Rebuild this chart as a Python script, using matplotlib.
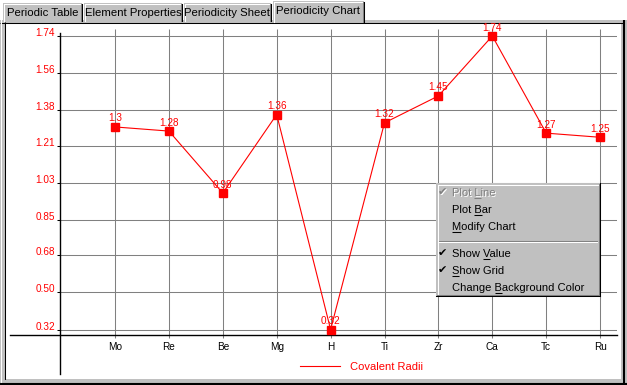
import matplotlib
matplotlib.use("Agg")
import matplotlib.pyplot as plt
from matplotlib.lines import Line2D
from matplotlib.patches import Rectangle

plt.rcParams['font.family'] = ['Liberation Sans', 'DejaVu Sans']

# ---------------- data ----------------
elements = ["Mo", "Re", "Be", "Mg", "H", "Ti", "Zr", "Ca", "Tc", "Ru"]
radii = [1.30, 1.28, 0.98, 1.36, 0.32, 1.32, 1.45, 1.74, 1.27, 1.25]
radii_labels = ["1.3", "1.28", "0.98", "1.36", "0.32", "1.32", "1.45", "1.74", "1.27", "1.25"]
y_ticks = [0.32, 0.50, 0.68, 0.85, 1.03, 1.21, 1.38, 1.56, 1.74]
y_tick_labels = ["0.32", "0.50", "0.68", "0.85", "1.03", "1.21", "1.38", "1.56", "1.74"]
series_name = "Covalent Radii"
tab_names = ["Periodic Table", "Element Properties", "Periodicity Sheet", "Periodicity Chart"]
menu_labels = ["Plot Line", "Plot Bar", "Modify Chart", "Show Value", "Show Grid",
               "Change Background Color"]
menu_underline = [5, 5, 0, 5, 0, 7]
menu_enabled = [False, True, True, True, True, True]
menu_checked = [True, False, False, True, True, False]

W, H = 627, 385
GRAY = '#c0c0c0'
DGRAY = '#808080'
fig = plt.figure(figsize=(W / 100, H / 100), dpi=100, facecolor='white')


def fx(px):
    return px / W


def fy(py):
    return 1 - py / H


# ---------------- background UI (frame + tabs) ----------------
bg = fig.add_axes([0, 0, 1, 1], zorder=0)
bg.set_xlim(0, W)
bg.set_ylim(H, 0)
bg.axis('off')

bg.add_patch(Rectangle((0, 20), W, H - 20, facecolor=GRAY, edgecolor='none'))
bg.add_patch(Rectangle((5, 23), 616, 356, facecolor='white', edgecolor='none'))
# frame lines
bg.plot([0, 624], [22.5, 22.5], color='black', lw=0.75, solid_capstyle='butt')
bg.plot([4.5, 4.5], [22, 380], color='black', lw=0.75, solid_capstyle='butt')
bg.plot([0.5, 0.5], [20, 384], color='white', lw=0.75)
bg.plot([624, 624], [20, 385], color='black', lw=1.5, solid_capstyle='butt')
bg.plot([0, 627], [383.5, 383.5], color='black', lw=1.5, solid_capstyle='butt')
bg.plot([5, 622], [380.5, 380.5], color=GRAY, lw=1.5)

tab_x = [(3, 82), (84, 182), (184, 271), (273, 364)]
for i, (name, (xa, xb)) in enumerate(zip(tab_names, tab_x)):
    sel = (i == len(tab_names) - 1)
    top = 1 if sel else 3
    bot = 22 if sel else 20.5
    bg.add_patch(Rectangle((xa, top), xb - xa, bot - top, facecolor=GRAY, edgecolor='none', zorder=2))
    bg.plot([xa + 0.5, xa + 0.5], [bot, top + 1], color='white', lw=0.75, zorder=3)
    bg.plot([xa + 1, xb - 1], [top + 0.5, top + 0.5], color='white', lw=0.75, zorder=3)
    bg.plot([xb - 0.5, xb - 0.5], [top + 1, bot], color='black', lw=0.75, zorder=3)
    bg.plot([xb - 1.5, xb - 1.5], [top + 1, bot], color=DGRAY, lw=0.75, zorder=3)
    bg.text((xa + xb) / 2, 11.5 if sel else 13, name, ha='center', va='center',
            fontsize=8.2, color='black', zorder=4)

# ---------------- chart ----------------
x0, x1, yt, yb = 10, 617, 28, 376
ax = fig.add_axes([fx(x0), fy(yb), (x1 - x0) / W, (yb - yt) / H], zorder=1)
ax.patch.set_alpha(0)


def px2i(px):
    return (px - 115) / 53.9


def py2v(py):
    return 0.32 + (329.5 - py) / 206.69


ax.set_xlim(px2i(x0), px2i(x1))
ax.set_ylim(py2v(yb), py2v(yt))
n = len(elements)
xs = list(range(n))

# grid
ax.hlines(y_ticks, px2i(60), px2i(617), color=DGRAY, lw=0.75, zorder=1)
ax.vlines(xs, py2v(335), py2v(29), color=DGRAY, lw=0.75, zorder=1)

# spines
for s in ['top', 'right']:
    ax.spines[s].set_visible(False)
ax.spines['left'].set_position(('axes', (60 - x0) / (x1 - x0)))
ax.spines['bottom'].set_position(('axes', (yb - 335) / (yb - yt)))
ax.spines['left'].set_bounds(py2v(374), py2v(33))
for s in ['left', 'bottom']:
    ax.spines[s].set_color('black')
    ax.spines[s].set_linewidth(1.0)

ax.set_xticks(xs)
ax.set_xticklabels(elements)
ax.set_yticks(y_ticks)
ax.set_yticklabels(y_tick_labels)
ax.tick_params(axis='y', length=2.2, width=0.75, color='black', pad=1.5,
               labelcolor='red', labelsize=7.2)
ax.tick_params(axis='x', length=2.2, width=0.75, color=DGRAY, pad=2.5,
               labelcolor='black', labelsize=7.2)
for lab in ax.get_yticklabels():
    lab.set_verticalalignment('baseline')

ax.plot(xs, radii, color='red', lw=0.8, marker='s', ms=5.8, mfc='red', mec='red', zorder=3)
for i, (v, lbl) in enumerate(zip(radii, radii_labels)):
    ax.annotate(lbl, (i, v), xytext=(0, 2.5), textcoords='offset points',
                ha='center', va='bottom', color='red', fontsize=7.2, zorder=4)

ax.legend(handles=[Line2D([], [], color='red', lw=0.8)], labels=[series_name],
          loc='center left', bbox_to_anchor=(fx(300), fy(367)),
          bbox_transform=fig.transFigure, frameon=False, handlelength=3.6,
          handletextpad=0.9, borderpad=0, borderaxespad=0, fontsize=8,
          labelcolor='red')

# ---------------- context menu ----------------
fg = fig.add_axes([0, 0, 1, 1], zorder=5)
fg.set_xlim(0, W)
fg.set_ylim(H, 0)
fg.axis('off')
fg.patch.set_alpha(0)

mx0, mx1, my0, my1 = 436, 600, 183, 296
fg.add_patch(Rectangle((mx0, my0), mx1 - mx0, my1 - my0, facecolor=GRAY, edgecolor='none'))
fg.plot([mx0 + 1.5, mx1 - 2], [my0 + 1.5, my0 + 1.5], color='white', lw=0.75)
fg.plot([mx0 + 1.5, mx0 + 1.5], [my0 + 1.5, my1 - 2], color='white', lw=0.75)
fg.plot([mx1 - 1.5, mx1 - 1.5], [my0 + 1, my1 - 1], color=DGRAY, lw=0.75)
fg.plot([mx0 + 1, mx1 - 1], [my1 - 1.5, my1 - 1.5], color=DGRAY, lw=0.75)
fg.plot([mx1 - 0.5, mx1 - 0.5], [my0, my1], color='black', lw=0.75)
fg.plot([mx0, mx1], [my1 - 0.5, my1 - 0.5], color='black', lw=0.75)
# separator
fg.plot([mx0 + 3, mx1 - 3], [240.5, 240.5], color=DGRAY, lw=0.75)
fg.plot([mx0 + 3, mx1 - 3], [241.5, 241.5], color='white', lw=0.75)

item_y = [192, 209, 226, 253, 270, 287]
renderer = fig.canvas.get_renderer()
tx = 452
for label, ul, y, en, chk in zip(menu_labels, menu_underline, item_y, menu_enabled, menu_checked):
    base = y + 4
    col = 'black' if en else DGRAY
    if not en:
        fg.text(tx + 1, base + 1, label, ha='left', va='baseline', fontsize=8, color='white')
    fg.text(tx, base, label, ha='left', va='baseline', fontsize=8, color=col)
    if chk:
        if not en:
            fg.text(443.5, y + 1, '\u2714', ha='center', va='center', fontsize=8,
                    color='white', family='DejaVu Sans')
        fg.text(442.5, y, '\u2714', ha='center', va='center', fontsize=8,
                color=col, family='DejaVu Sans')
    # underline accelerator letter
    a = fg.text(tx, base, label[:ul + 1], ha='left', va='baseline', fontsize=8, alpha=0)
    b = fg.text(tx, base, label[ul], ha='left', va='baseline', fontsize=8, alpha=0)
    wa = a.get_window_extent(renderer).width
    wb = b.get_window_extent(renderer).width
    end = tx + wa
    fg.plot([end - wb, end], [base + 1.5, base + 1.5], color=col, lw=0.75,
            solid_capstyle='butt')
    a.remove()
    b.remove()

fig.savefig('out.png', dpi=100, facecolor='white')
